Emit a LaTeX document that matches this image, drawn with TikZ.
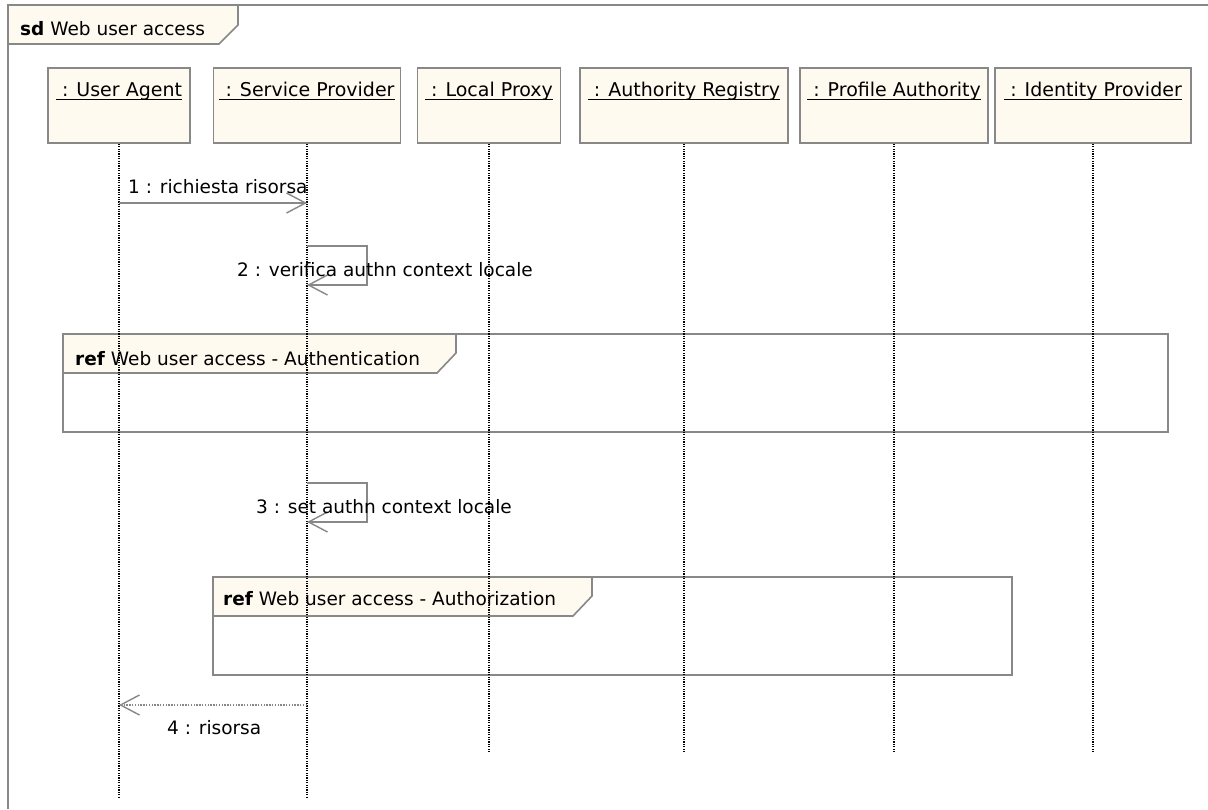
\documentclass[tikz,border=0pt]{standalone}
\usepackage{fontspec}
\setmainfont{DejaVu Sans}
\usetikzlibrary{arrows.meta}
\definecolor{umlgray}{RGB}{136,136,136}
\definecolor{umlcream}{RGB}{255,250,239}
\begin{document}
\begin{tikzpicture}[x=1pt,y=-1pt,
  every node/.style={font=\fontsize{18.5}{22}\selectfont},
  frameline/.style={draw=umlgray,line width=1.6pt},
  tab/.style={draw=umlgray,line width=1.6pt,fill=umlcream},
  lifebox/.style={draw=umlgray,line width=1.6pt,fill=umlcream,minimum height=75pt,inner sep=0pt},
  lifeline/.style={black,line width=1.2pt,dash pattern=on 1.2pt off 1.2pt},
  msg/.style={umlgray,line width=1.4pt,-{Straight Barb[length=19pt,width=20pt]}},
  ret/.style={umlgray,line width=1.4pt,dash pattern=on 1.4pt off 1.4pt,-{Straight Barb[length=19pt,width=20pt]}},
  txt/.style={anchor=base west,inner sep=0pt,text=black},
  objname/.style={anchor=base,inner sep=0pt,text=black,font=\fontsize{19}{22}\selectfont},
  uline/.style={black,line width=1.2pt},
]
\useasboundingbox (0,0) rectangle (1208,809);
\fill[white] (0,0) rectangle (1208,809);

% outer sd frame with its name tab
\draw[frameline] (8,809) -- (8,5) -- (1208,5);
\draw[tab] (8,5) -- (238,5) -- (238,25) -- (219,44) -- (8,44) -- cycle;
\node[txt] (sdname) at (20,35) {\textbf{sd} Web user access};

% interaction uses (ref frames)
\draw[frameline] (63,334) rectangle (1168,432);
\draw[tab] (63,334) -- (456,334) -- (456,353) -- (437,373) -- (63,373) -- cycle;
\node[txt] (refA) at (75,365) {\textbf{ref} Web user access - Authentication};

\draw[frameline] (213,577) rectangle (1012,675);
\draw[tab] (213,577) -- (592,577) -- (592,596) -- (573,616) -- (213,616) -- cycle;
\node[txt] (refB) at (223,605) {\textbf{ref} Web user access - Authorization};

% participants
\node[lifebox,minimum width=142pt] (ua) at (119,105.5) {};
\node[lifebox,minimum width=187pt] (sp) at (307,105.5) {};
\node[lifebox,minimum width=143pt] (lp) at (489,105.5) {};
\node[lifebox,minimum width=208pt] (ar) at (684,105.5) {};
\node[lifebox,minimum width=188pt] (pa) at (894,105.5) {};
\node[lifebox,minimum width=196pt] (ip) at (1093,105.5) {};

\foreach \p/\t in {ua/User Agent,sp/Service Provider,lp/Local Proxy,ar/Authority Registry,pa/Profile Authority,ip/Identity Provider}{
  \node[objname] (\p t) at ([yshift=-29pt]\p.north) {~: \t};
  \draw[uline] ([yshift=-3pt]\p t.base west) -- ([yshift=-3pt]\p t.base east);
}

% lifelines
\coordinate (endlong) at (0,798);
\coordinate (endshort) at (0,752);
\draw[lifeline] (ua.south) -- (ua.south |- endlong);
\draw[lifeline] (sp.south) -- (sp.south |- endlong);
\foreach \p in {lp,ar,pa,ip}{
  \draw[lifeline] (\p.south) -- (\p.south |- endshort);
}

% message levels
\coordinate (y1) at (0,203);
\coordinate (y2a) at (0,246);
\coordinate (y2b) at (0,285);
\coordinate (y3a) at (0,483);
\coordinate (y3b) at (0,522);
\coordinate (y4) at (0,705);

% 1 : richiesta risorsa
\draw[msg] (ua |- y1) -- (sp |- y1);
\node[txt] (m1) at (128,193) {1 : richiesta risorsa};

% 2 : self call
\draw[msg] (sp |- y2a) -- ++(60,0) |- (sp |- y2b);
\node[txt] (m2) at (237,276) {2 : verifica authn context locale};

% 3 : self call
\draw[msg] (sp |- y3a) -- ++(60,0) |- (sp |- y3b);
\node[txt] (m3) at (256,513) {3 : set authn context locale};

% 4 : reply
\draw[ret] (sp |- y4) -- (ua |- y4);
\node[txt] (m4) at (167,734) {4 : risorsa};
\end{tikzpicture}
\end{document}
